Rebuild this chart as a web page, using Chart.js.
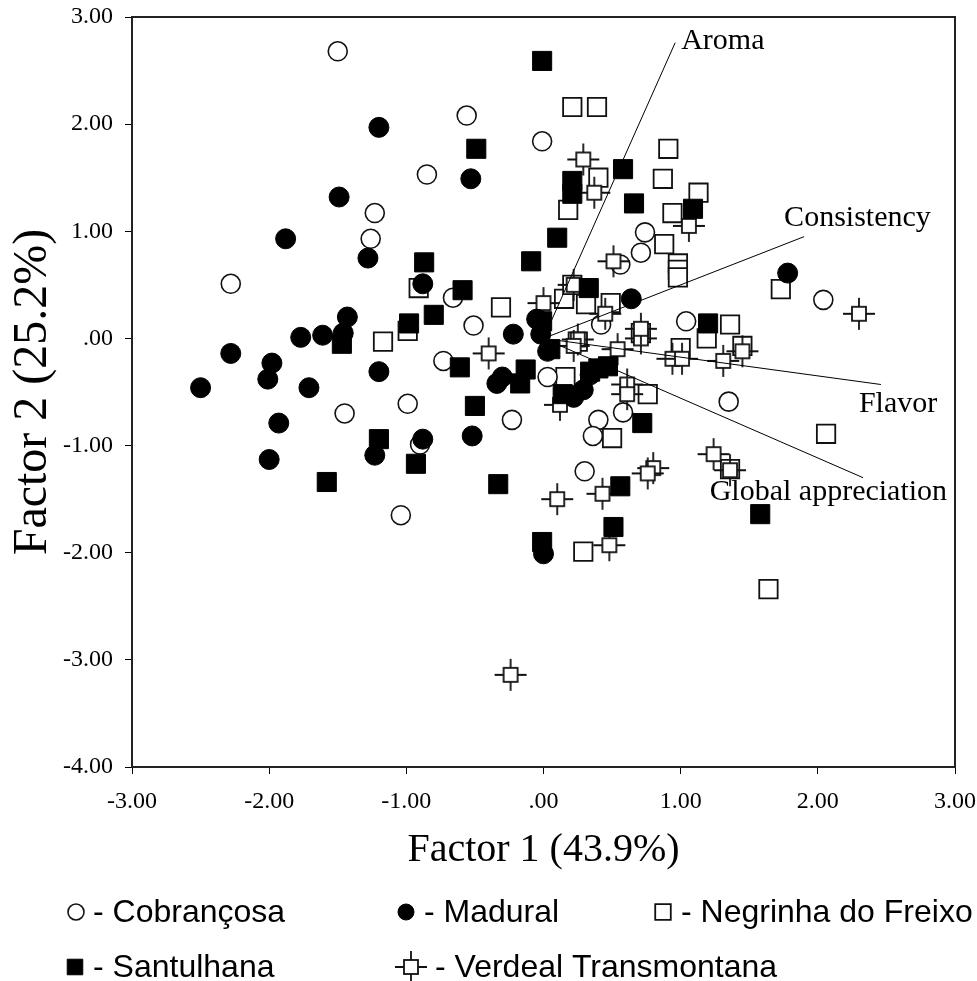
<!DOCTYPE html>
<html>
<head>
    <meta charset="UTF-8">
    <title>Factor 1 vs Factor 2</title>
    <style>
        html, body { margin: 0; padding: 0; background: #fff; }
        canvas { display: block; }
    </style>
</head>
<body>
    <canvas id="myChart" width="977" height="981"></canvas>

    <script src="https://cdn.jsdelivr.net/npm/chart.js@4.4.1/dist/chart.umd.min.js"></script>
    <script>
        // factor scores, [factor 1, factor 2]
        var cobrancosa = [
            [-1.50, 2.68], [-0.56, 2.08], [-0.01, 1.84], [-0.85, 1.53], [-1.23, 1.17], [-1.26, 0.93],
            [-2.28, 0.51], [-0.66, 0.38], [-0.51, 0.12], [-0.73, -0.21], [-1.45, -0.70], [-0.99, -0.61],
            [-0.23, -0.76], [-1.04, -1.65], [0.03, -0.36], [-0.90, -0.99], [0.42, 0.13], [0.56, 0.69],
            [0.71, 0.80], [0.74, 0.99], [1.04, 0.16], [2.04, 0.36], [1.35, -0.59], [0.40, -0.76],
            [0.36, -0.91], [0.58, -0.69], [0.30, -1.24]
        ];
        var madural = [
            [-1.20, 1.97], [-0.53, 1.49], [-1.49, 1.32], [-1.88, 0.93], [-1.28, 0.75], [-0.88, 0.51],
            [-1.43, 0.20], [-1.46, 0.05], [-1.77, 0.01], [-1.61, 0.03], [-2.28, -0.14], [-1.98, -0.23],
            [-2.01, -0.38], [-2.50, -0.46], [-1.71, -0.46], [-1.93, -0.79], [-2.00, -1.13], [-1.20, -0.31],
            [-1.23, -1.09], [-0.88, -0.94], [-0.52, -0.91], [-0.34, -0.42], [-0.30, -0.36], [-0.22, 0.04],
            [0.64, 0.37], [1.78, 0.61], [0.00, -2.01], [0.29, -0.48], [-0.05, 0.18], [-0.02, 0.04],
            [0.03, -0.12], [0.34, -0.34], [0.22, -0.55]
        ];
        var negrinha = [
            [0.21, 2.16], [0.39, 2.16], [0.91, 1.77], [0.87, 1.49], [0.40, 1.50], [0.18, 1.20],
            [1.13, 1.36], [0.94, 1.17], [0.88, 0.88], [0.98, 0.70], [0.98, 0.64], [0.98, 0.57],
            [0.15, 0.37], [0.31, 0.32], [0.21, 0.50], [-0.31, 0.29], [-0.91, 0.47], [-0.99, 0.07],
            [-1.17, -0.03], [0.16, -0.36], [0.25, -0.03], [0.50, -0.93], [0.76, -0.52], [0.71, 0.05],
            [1.19, 0.00], [1.36, 0.13], [1.73, 0.46], [1.00, -0.09], [1.45, -0.07], [2.06, -0.89],
            [1.64, -2.34], [0.29, -1.99], [1.36, -1.22], [0.49, 0.33]
        ];
        var santulhana = [
            [-0.01, 2.59], [-0.49, 1.77], [0.58, 1.58], [0.21, 1.47], [0.21, 1.35], [0.66, 1.26],
            [1.09, 1.21], [0.10, 0.94], [-0.87, 0.71], [-0.09, 0.72], [-0.59, 0.45], [-0.80, 0.22],
            [-0.98, 0.14], [0.33, 0.47], [-1.47, -0.05], [-0.61, -0.27], [-0.13, -0.29], [-0.17, -0.42],
            [-0.50, -0.63], [0.14, -0.52], [0.34, -0.31], [0.47, -0.26], [0.72, -0.79], [-1.20, -0.94],
            [-0.93, -1.17], [-1.58, -1.34], [-0.33, -1.36], [0.56, -1.38], [0.51, -1.76], [-0.01, -1.90],
            [1.20, 0.14], [1.58, -1.64], [-0.01, 0.16], [0.05, -0.10], [0.40, -0.28]
        ];
        var verdeal = [
            [0.29, 1.67], [0.37, 1.36], [1.06, 1.05], [0.51, 0.72], [0.22, 0.50], [0.00, 0.33],
            [0.45, 0.23], [0.25, -0.01], [0.22, -0.07], [0.54, -0.10], [0.71, 0.00], [0.71, 0.09],
            [0.61, -0.43], [0.61, -0.52], [0.94, -0.19], [1.01, -0.19], [1.31, -0.21], [1.45, -0.12],
            [2.30, 0.23], [-0.40, -0.14], [0.12, -0.62], [0.10, -1.50], [0.43, -1.45], [0.48, -1.93],
            [-0.24, -3.14], [0.80, -1.21], [0.76, -1.26], [1.24, -1.08], [1.36, -1.23]
        ];

        // loading vectors
        var vectorNames = ['Aroma', 'Consistency', 'Flavor', 'Global appreciation'];
        var vectorX = [0.96, 1.90, 2.46, 2.33];
        var vectorY = [2.76, 0.95, -0.43, -1.30];

        var xTicks = [-3, -2, -1, 0, 1, 2, 3];
        var yTicks = [-4, -3, -2, -1, 0, 1, 2, 3];

        function pts(list) {
            return list.map(function(p) { return { x: p[0], y: p[1] }; });
        }

        function fmt(v) {
            return v === 0 ? '.00' : v.toFixed(2);
        }

        // open square with little crosshair arms
        function crossSquare() {
            var c = document.createElement('canvas');
            c.width = 34; c.height = 34;
            var g = c.getContext('2d');
            g.strokeStyle = '#111';
            g.lineWidth = 1.8;
            g.fillStyle = '#fff';
            g.fillRect(10, 10, 14, 14);
            g.strokeRect(10, 10, 14, 14);
            g.beginPath();
            g.moveTo(17, 1); g.lineTo(17, 10);
            g.moveTo(17, 24); g.lineTo(17, 33);
            g.moveTo(1, 17); g.lineTo(10, 17);
            g.moveTo(24, 17); g.lineTo(33, 17);
            g.stroke();
            return c;
        }
        var crossImg = crossSquare();

        var datasets = [
            { label: 'Cobrançosa', data: pts(cobrancosa), pointStyle: 'circle', pointRadius: 9.5,
              backgroundColor: '#fff', borderColor: '#111', borderWidth: 1.6, order: 4 },
            { label: 'Madural', data: pts(madural), pointStyle: 'circle', pointRadius: 10,
              backgroundColor: '#000', borderColor: '#000', borderWidth: 1, order: 2 },
            { label: 'Negrinha do Freixo', data: pts(negrinha), pointStyle: 'rect', pointRadius: 13,
              backgroundColor: '#fff', borderColor: '#111', borderWidth: 1.8, order: 5 },
            { label: 'Santulhana', data: pts(santulhana), pointStyle: 'rect', pointRadius: 13.5,
              backgroundColor: '#000', borderColor: '#000', borderWidth: 1, order: 1 },
            { label: 'Verdeal Transmontana', data: pts(verdeal), pointStyle: crossImg, pointRadius: 16,
              backgroundColor: '#fff', borderColor: '#111', borderWidth: 1, order: 3 }
        ];

        vectorNames.forEach(function(name, i) {
            datasets.push({
                label: name,
                data: [{ x: 0, y: 0 }, { x: vectorX[i], y: vectorY[i] }],
                showLine: true,
                pointRadius: 0,
                borderColor: '#000',
                borderWidth: 1,
                order: 0
            });
        });

        // where the legend entries sit below the plot
        var legendSlots = [[76, 912, 17], [406, 912, 18], [663, 912, 18], [75, 967, 18], [411, 967, 24]];
        var labelOffsets = [[6, -2, 'left'], [-20, -19, 'left'], [-22, 20, 'left'], [84, 14, 'right']];

        var extras = {
            id: 'extras',
            afterDraw: function(chart) {
                var ctx = chart.ctx, a = chart.chartArea;
                var xs = chart.scales.x, ys = chart.scales.y;
                ctx.save();
                ctx.strokeStyle = '#222';
                ctx.lineWidth = 2;
                ctx.strokeRect(a.left, a.top, a.right - a.left, a.bottom - a.top);

                ctx.fillStyle = '#000';
                ctx.textBaseline = 'middle';
                ctx.font = '30px "Liberation Serif"';
                vectorNames.forEach(function(name, i) {
                    var px = xs.getPixelForValue(vectorX[i]);
                    var py = ys.getPixelForValue(vectorY[i]);
                    var off = labelOffsets[i];
                    ctx.textAlign = off[2];
                    ctx.fillText(name, px + off[0], py + off[1]);
                });

                ctx.font = '32px "Liberation Sans"';
                ctx.textAlign = 'left';
                for (var i = 0; i < 5; i++) {
                    var ds = chart.data.datasets[i];
                    var s = legendSlots[i];
                    ctx.fillStyle = ds.backgroundColor;
                    ctx.strokeStyle = ds.borderColor;
                    ctx.lineWidth = ds.borderWidth;
                    Chart.helpers.drawPoint(ctx, {
                        pointStyle: ds.pointStyle,
                        radius: ds.pointStyle === 'rect' ? 11 : (ds.pointStyle === 'circle' ? 8 : 16),
                        borderWidth: ds.borderWidth,
                        rotation: 0
                    }, s[0], s[1]);
                    ctx.fillStyle = '#000';
                    ctx.fillText('- ' + ds.label, s[0] + s[2], s[1] + 1);
                }
                ctx.restore();
            }
        };

        var serif = 'Liberation Serif';

        new Chart('myChart', {
            type: 'scatter',
            data: { datasets: datasets },
            options: {
                responsive: false,
                animation: false,
                devicePixelRatio: 1,
                layout: { padding: { left: 0, right: 22, top: 17, bottom: 107 } },
                plugins: {
                    legend: { display: false },
                    tooltip: { enabled: false }
                },
                scales: {
                    x: {
                        type: 'linear', min: -3, max: 3,
                        afterBuildTicks: function(s) { s.ticks = xTicks.map(function(v) { return { value: v }; }); },
                        afterFit: function(s) {
                            s.height = 107;
                            s.paddingLeft = 0; s.paddingRight = 0;
                        },
                        ticks: { color: '#000', font: { family: serif, size: 24 }, padding: 13, callback: fmt, maxRotation: 0 },
                        grid: { drawOnChartArea: false, drawTicks: true, tickLength: 7, color: '#000', tickColor: '#000' },
                        border: { display: true, color: '#000', width: 1.5 },
                        title: { display: true, text: 'Factor 1 (43.9%)', color: '#000',
                                 font: { family: serif, size: 40 }, padding: { top: 0, bottom: 0 } }
                    },
                    y: {
                        type: 'linear', min: -4, max: 3,
                        afterBuildTicks: function(s) { s.ticks = yTicks.map(function(v) { return { value: v }; }); },
                        afterFit: function(s) {
                            s.width = 132;
                            s.paddingTop = 0; s.paddingBottom = 0;
                        },
                        ticks: { color: '#000', font: { family: serif, size: 24 }, padding: 12, callback: fmt },
                        grid: { drawOnChartArea: false, drawTicks: true, tickLength: 7, color: '#000', tickColor: '#000' },
                        border: { display: true, color: '#000', width: 1.5 },
                        title: { display: true, text: 'Factor 2 (25.2%)', color: '#000',
                                 font: { family: serif, size: 48 }, padding: { top: 5, bottom: 0 } }
                    }
                }
            },
            plugins: [extras]
        });
    </script>
</body>
</html>
